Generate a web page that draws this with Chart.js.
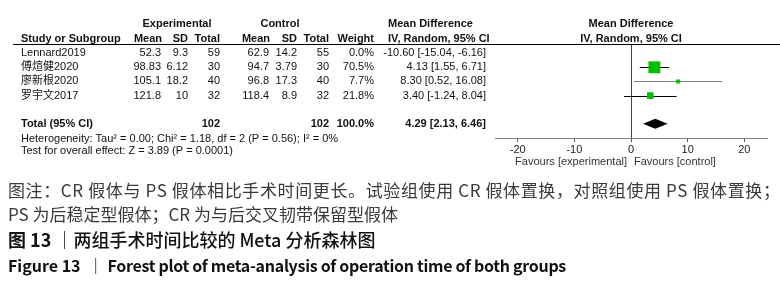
<!DOCTYPE html>
<html lang="zh">
<head>
<meta charset="UTF-8">
<title>Forest plot - operation time</title>
<script src="https://cdn.jsdelivr.net/npm/chart.js"></script>
<style>
  html, body { margin: 0; padding: 0; background: #fff; }
  #wrap { position: relative; width: 780px; height: 297px; overflow: hidden; }
  #plot { position: absolute; left: 0; top: 0; }
  .cap { position: absolute; left: 8px; white-space: nowrap; line-height: 24px;
         font-family: "Noto Sans CJK SC", sans-serif; }
  #cap1, #cap2 { font-size: 17px; color: #3a3a3a; }
  #cap1 { letter-spacing: 0.62px; }
  #cap3 { font-size: 18px; color: #111; font-weight: 500; }
  #cap4 { font-size: 16px; color: #111; font-weight: 700; }
  #cap4 .rest { letter-spacing: -0.3px; }
</style>
</head>
<body>
<div id="wrap">
  <canvas id="plot" width="780" height="297"></canvas>
  <div class="cap" id="cap1" style="top:178px">图注：CR 假体与 PS 假体相比手术时间更长。试验组使用 CR 假体置换，对照组使用 PS 假体置换；</div>
  <div class="cap" id="cap2" style="top:202px">PS 为后稳定型假体；CR 为与后交叉韧带保留型假体</div>
  <div class="cap" id="cap3" style="top:227px"><b>图 13</b> ｜两组手术时间比较的 Meta 分析森林图</div>
  <div class="cap" id="cap4" style="top:253px">Figure 13 &nbsp;｜ <span class="rest">Forest plot of meta-analysis of operation time of both groups</span></div>
</div>
<script>
// study data
const studies = ['Lennard2019', '傅煊健2020', '廖新根2020', '罗宇文2017'];
const expMean = [52.3, 98.83, 105.1, 121.8];
const expSD = [9.3, 6.12, 18.2, 10];
const expTotal = [59, 30, 40, 32];
const ctrlMean = [62.9, 94.7, 96.8, 118.4];
const ctrlSD = [14.2, 3.79, 17.3, 8.9];
const ctrlTotal = [55, 30, 40, 32];
const weights = [0.0, 70.5, 7.7, 21.8];
const md = [-10.60, 4.13, 8.30, 3.40];
const ciLow = [-15.04, 1.55, 0.52, -1.24];
const ciHigh = [-6.16, 6.71, 16.08, 8.04];

// pooled result
const totalExp = 102;
const totalCtrl = 102;
const totalWeight = 100.0;
const pooledMD = 4.29;
const pooledLow = 2.13;
const pooledHigh = 6.46;
const heterogeneity = 'Heterogeneity: Tau² = 0.00; Chi² = 1.18, df = 2 (P = 0.56); I² = 0%';
const overallTest = 'Test for overall effect: Z = 3.89 (P = 0.0001)';

const tickValues = [-20, -10, 0, 10, 20];
const TOTAL_ROW = 6;

const FONT = '"Liberation Sans", Arial, "Noto Sans CJK SC", sans-serif';
const ciText = (m, l, h) => m.toFixed(2) + ' [' + l.toFixed(2) + ', ' + h.toFixed(2) + ']';

const forestPlugin = {
  id: 'forest',
  beforeDatasetsDraw(chart) {
    const { ctx, scales: { x, y } } = chart;
    ctx.save();
    ctx.lineWidth = 1;
    studies.forEach((s, i) => {
      if (weights[i] <= 0) return;
      const py = Math.round(y.getPixelForValue(i + 1)) + 0.5;
      ctx.strokeStyle = i === 2 ? '#808080' : '#000';
      ctx.beginPath();
      ctx.moveTo(x.getPixelForValue(ciLow[i]), py);
      ctx.lineTo(x.getPixelForValue(ciHigh[i]), py);
      ctx.stroke();
    });
    ctx.restore();
  },
  afterDatasetsDraw(chart) {
    const { ctx, scales: { x, y } } = chart;
    const py = y.getPixelForValue(TOTAL_ROW);
    ctx.save();
    ctx.fillStyle = '#000';
    ctx.beginPath();
    ctx.moveTo(x.getPixelForValue(pooledLow), py);
    ctx.lineTo(x.getPixelForValue(pooledMD), py - 5);
    ctx.lineTo(x.getPixelForValue(pooledHigh), py);
    ctx.lineTo(x.getPixelForValue(pooledMD), py + 5);
    ctx.closePath();
    ctx.fill();
    ctx.restore();
  },
  afterDraw(chart) {
    const { ctx, scales: { x, y } } = chart;
    ctx.save();
    ctx.textBaseline = 'middle';
    ctx.fillStyle = '#111';

    const txt = (s, px, py, align, bold) => {
      ctx.font = (bold ? 'bold ' : '') + '11px ' + FONT;
      ctx.textAlign = align;
      ctx.fillText(s, px, py);
    };

    // headers
    txt('Experimental', 177, 24, 'center', true);
    txt('Control', 280, 24, 'center', true);
    txt('Mean Difference', 388, 24, 'left', true);
    txt('Mean Difference', 631, 24, 'center', true);
    txt('Study or Subgroup', 21, 39, 'left', true);
    txt('Mean', 162, 39, 'right', true);
    txt('SD', 188, 39, 'right', true);
    txt('Total', 220, 39, 'right', true);
    txt('Mean', 270, 39, 'right', true);
    txt('SD', 297, 39, 'right', true);
    txt('Total', 329, 39, 'right', true);
    txt('Weight', 374, 39, 'right', true);
    txt('IV, Random, 95% CI', 388, 39, 'left', true);
    txt('IV, Random, 95% CI', 631, 39, 'center', true);

    ctx.strokeStyle = '#000';
    ctx.lineWidth = 1;
    ctx.beginPath();
    ctx.moveTo(13, 44.5);
    ctx.lineTo(780, 44.5);
    ctx.stroke();

    // study rows
    studies.forEach((s, i) => {
      const py = y.getPixelForValue(i + 1);
      txt(s, 21, py, 'left');
      txt(String(expMean[i]), 161, py, 'right');
      txt(String(expSD[i]), 188, py, 'right');
      txt(String(expTotal[i]), 220, py, 'right');
      txt(String(ctrlMean[i]), 269, py, 'right');
      txt(String(ctrlSD[i]), 297, py, 'right');
      txt(String(ctrlTotal[i]), 329, py, 'right');
      txt(weights[i].toFixed(1) + '%', 374, py, 'right');
      txt(ciText(md[i], ciLow[i], ciHigh[i]), 486, py, 'right');
    });

    // total row
    const ty = y.getPixelForValue(TOTAL_ROW);
    txt('Total (95% CI)', 21, ty, 'left', true);
    txt(String(totalExp), 220, ty, 'right', true);
    txt(String(totalCtrl), 329, ty, 'right', true);
    txt(totalWeight.toFixed(1) + '%', 374, ty, 'right', true);
    txt(ciText(pooledMD, pooledLow, pooledHigh), 486, ty, 'right', true);
    txt(heterogeneity, 21, ty + 15, 'left');
    txt(overallTest, 21, ty + 27, 'left');

    // favours labels
    const zero = x.getPixelForValue(0);
    ctx.fillStyle = '#333';
    txt('Favours [experimental]', zero - 4, 162, 'right');
    txt('Favours [control]', zero + 3, 162, 'left');
    ctx.restore();
  }
};

new Chart(document.getElementById('plot'), {
  type: 'scatter',
  data: {
    datasets: [{
      data: studies.map((s, i) => ({ x: md[i], y: i + 1 })),
      pointStyle: 'rect',
      pointRadius: weights.map(w => Math.sqrt(w)),
      pointHoverRadius: weights.map(w => Math.sqrt(w)),
      backgroundColor: '#00c000',
      borderWidth: 0
    }]
  },
  options: {
    responsive: false,
    animation: false,
    events: [],
    layout: { padding: { left: 495, right: 13, top: 44, bottom: 143 } },
    plugins: { legend: { display: false }, tooltip: { enabled: false } },
    scales: {
      x: {
        type: 'linear',
        min: -24,
        max: 24,
        afterBuildTicks: (scale) => { scale.ticks = tickValues.map(v => ({ value: v })); },
        afterFit: (scale) => { scale.height = 16; },
        border: { display: true, color: '#808080' },
        grid: {
          drawOnChartArea: true,
          color: (c) => (c.tick && c.tick.value === 0 ? '#444' : 'rgba(0,0,0,0)'),
          tickColor: '#555',
          tickLength: 4
        },
        ticks: { padding: 1, color: '#222', font: { family: FONT, size: 11 }, maxRotation: 0 }
      },
      y: { type: 'linear', display: false, min: 0.35, max: 7, reverse: true }
    }
  },
  plugins: [forestPlugin]
});
</script>
</body>
</html>
